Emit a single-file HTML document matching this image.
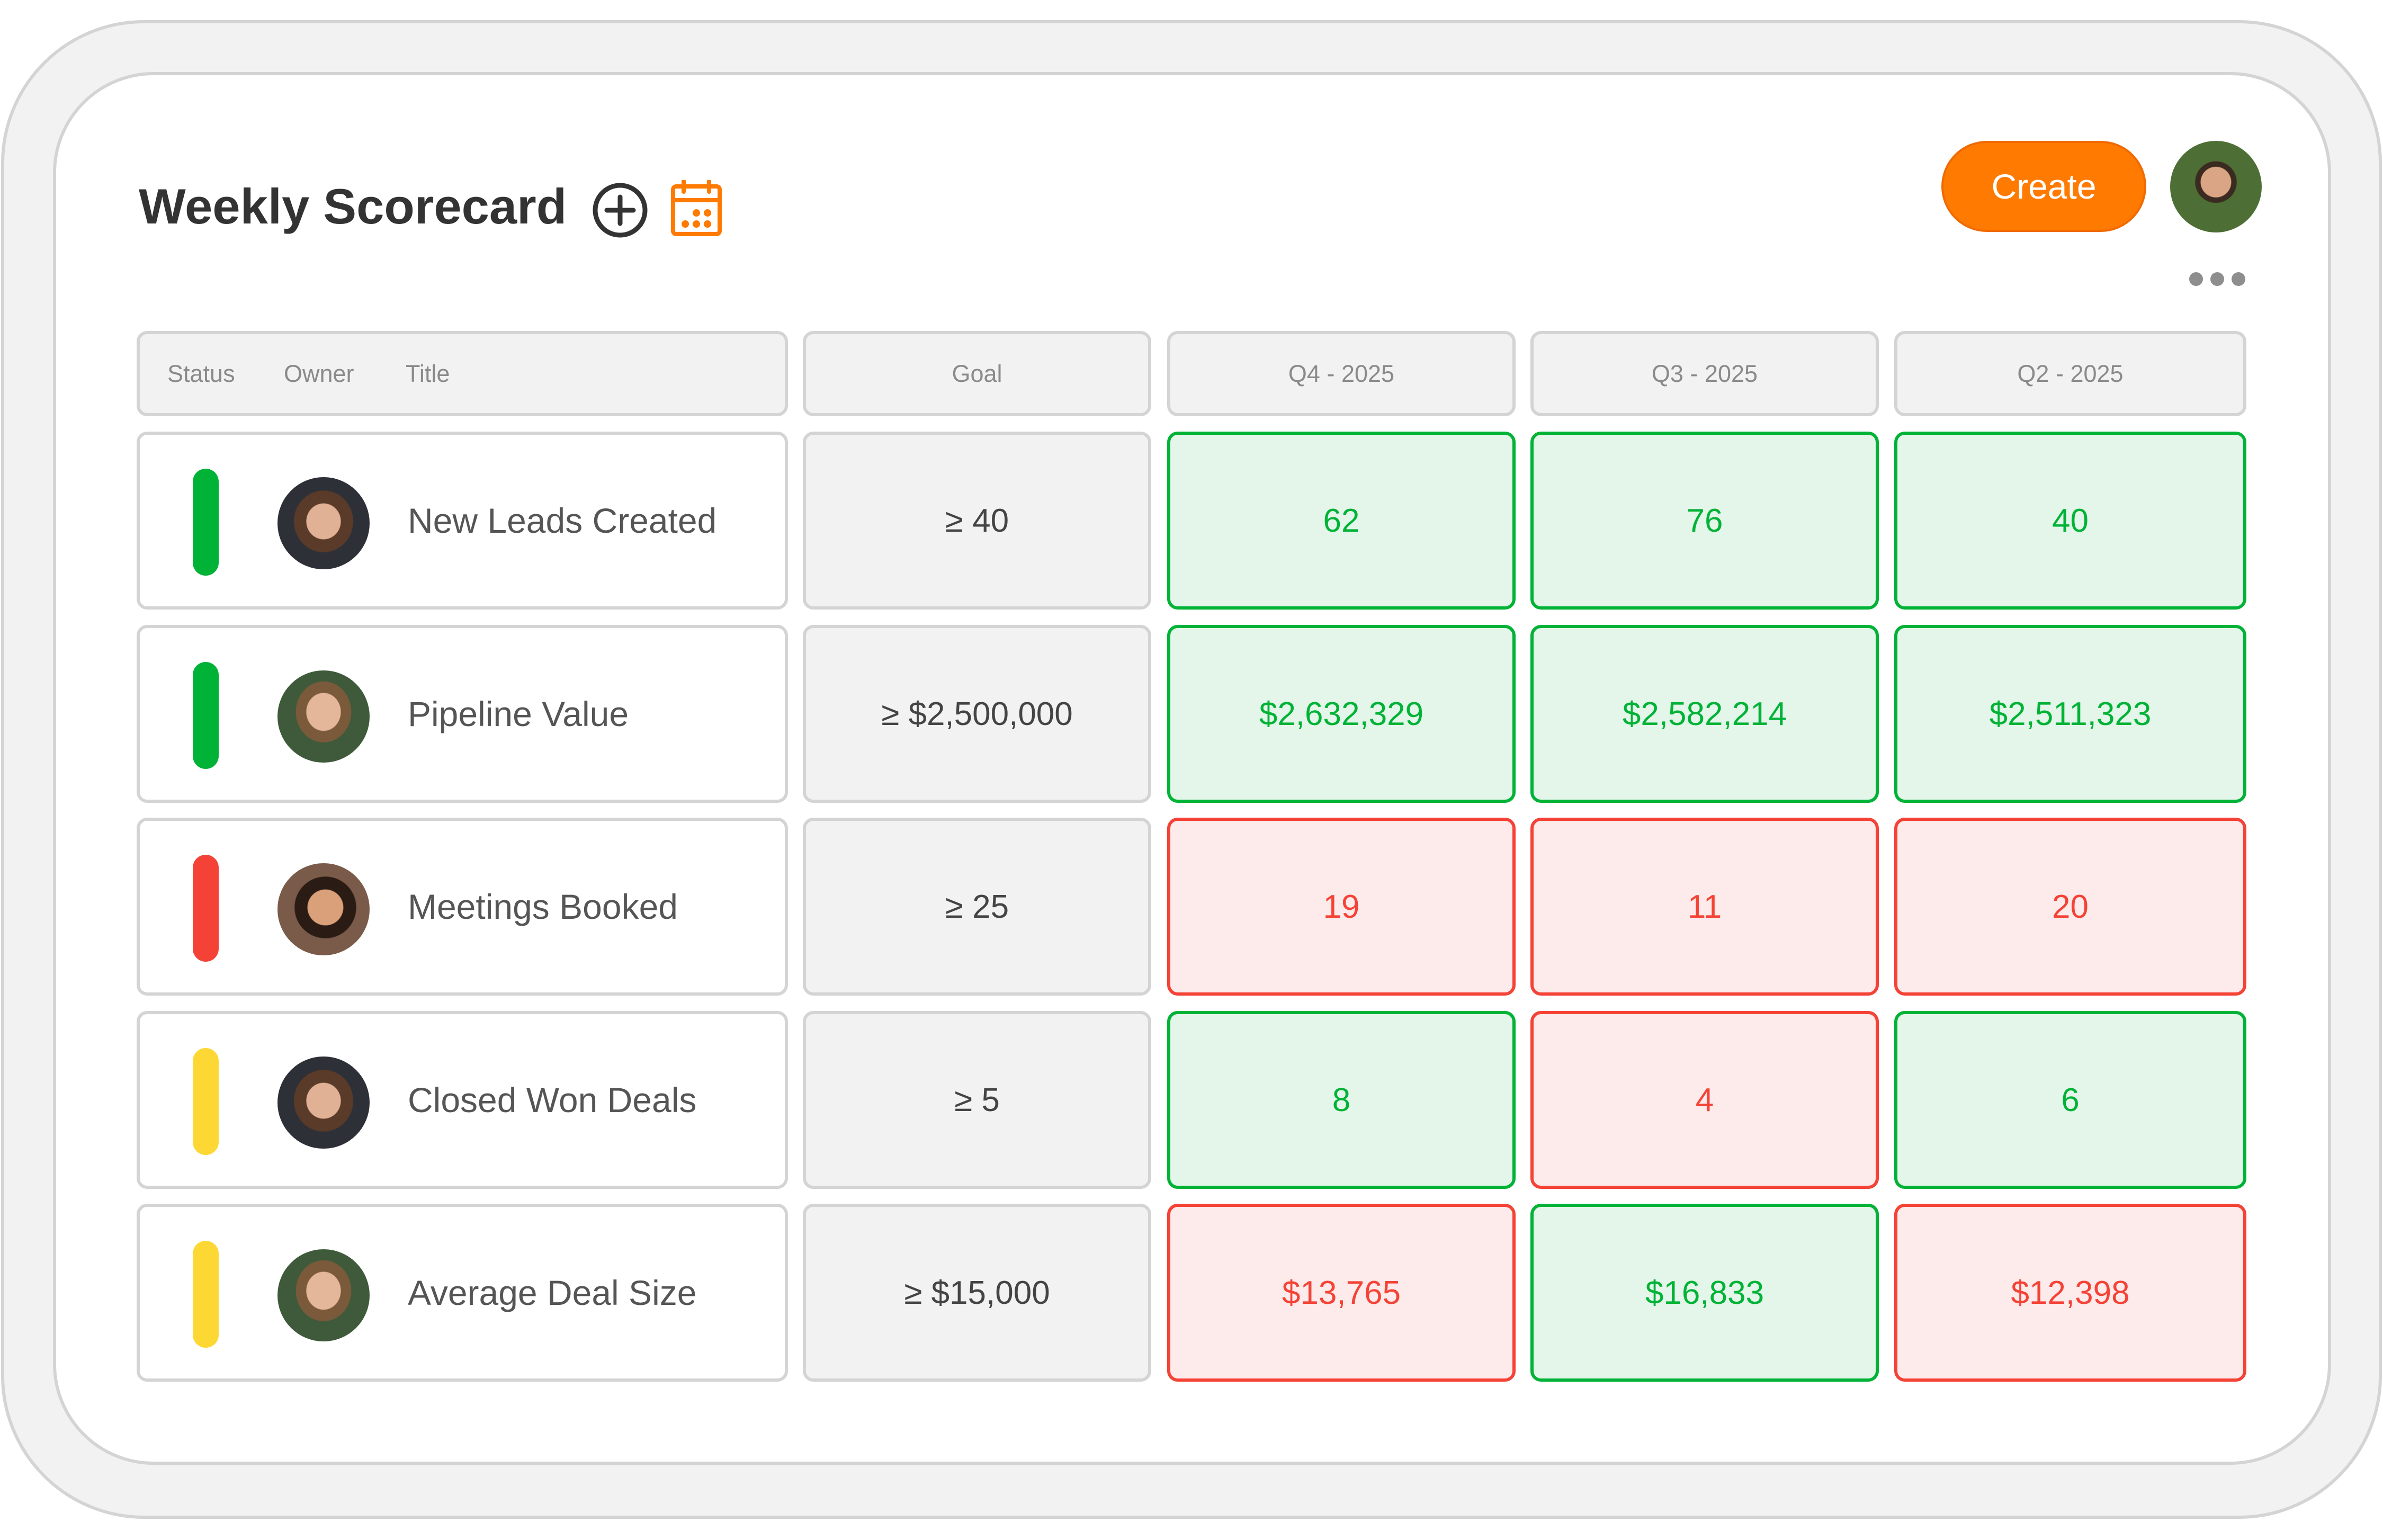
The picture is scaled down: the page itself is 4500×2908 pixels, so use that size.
<!DOCTYPE html>
<html><head><style>
*{margin:0;padding:0;box-sizing:border-box}
body{width:4500px;height:2908px;background:#fff;position:relative;overflow:hidden;font-family:"Liberation Sans",sans-serif}
.abs{position:absolute}
.outer{left:2px;top:38px;width:4496px;height:2830px;background:#f2f2f2;border:6px solid #d4d4d4;border-radius:270px}
.inner{left:100px;top:136px;width:4302px;height:2630px;background:#fff;border:6px solid #d4d4d4;border-radius:190px}
.title{left:262px;top:336px;font-size:94px;font-weight:bold;color:#333;letter-spacing:0px}
.cell{position:absolute;border:6px solid #d4d4d4;border-radius:20px;display:flex;align-items:center;justify-content:center;font-size:62px}
.hdr{background:#f2f2f2;color:#8a8a8a;font-size:45px}
.goal{background:#f2f2f2;color:#444}
.g{background:#e4f5ea;border-color:#00b336;color:#00b336}
.r{background:#fdeaea;border-color:#f44336;color:#f44336}
.main{background:#fff;justify-content:flex-start}
.bar{position:absolute;left:100px;width:49px;top:64px;height:202px;border-radius:25px}
.av{position:absolute;left:260px;top:80px;width:174px;height:174px;border-radius:50%}
.lbl{position:absolute;left:506px;color:#555;font-size:66px;top:124px}
.dot{position:absolute;width:26px;height:26px;border-radius:50%;background:#8e8e8e;top:514px}
</style></head><body>
<div class="abs outer"></div>
<div class="abs inner"></div>
<div class="abs title">Weekly Scorecard</div>
<svg class="abs" style="left:1118px;top:344px" width="106" height="106" viewBox="0 0 106 106"><circle cx="53" cy="53" r="47" fill="none" stroke="#333" stroke-width="9"/><path d="M53 28V78M28 53H78" stroke="#333" stroke-width="9" stroke-linecap="round"/></svg>
<svg class="abs" style="left:1266px;top:340px" width="98" height="106" viewBox="0 0 98 106"><rect x="5" y="12" width="88" height="90" rx="6" fill="none" stroke="#ff7a00" stroke-width="8"/><path d="M5 38H93" stroke="#ff7a00" stroke-width="8"/><path d="M25 2V22M73 2V22" stroke="#ff7a00" stroke-width="8" stroke-linecap="round"/><circle cx="49" cy="62" r="7" fill="#ff7a00"/><circle cx="70" cy="62" r="7" fill="#ff7a00"/><circle cx="28" cy="83" r="7" fill="#ff7a00"/><circle cx="49" cy="83" r="7" fill="#ff7a00"/><circle cx="70" cy="83" r="7" fill="#ff7a00"/></svg>
<div class="abs" style="left:3666px;top:266px;width:387px;height:172px;border-radius:86px;background:#ff7a00;border:4px solid #f06a00;color:#fff;font-size:66px;display:flex;align-items:center;justify-content:center">Create</div>
<div class="abs" style="left:4098px;top:266px;width:173px;height:173px;border-radius:50%;background:radial-gradient(circle at 50% 45%,#d9a584 0 22%,#3a2a20 23% 30%,#4d6e34 31% 100%)"></div>
<div class="dot" style="left:4134px"></div><div class="dot" style="left:4174px"></div><div class="dot" style="left:4214px"></div>

<div class="cell hdr" style="left:258px;top:625px;width:1230px;height:161px;justify-content:flex-start"><span style="position:absolute;left:52px">Status</span><span style="position:absolute;left:272px">Owner</span><span style="position:absolute;left:502px">Title</span></div>
<div class="cell hdr" style="left:1516px;top:625px;width:658px;height:161px">Goal</div>
<div class="cell hdr" style="left:2204px;top:625px;width:658px;height:161px">Q4 - 2025</div>
<div class="cell hdr" style="left:2890px;top:625px;width:658px;height:161px">Q3 - 2025</div>
<div class="cell hdr" style="left:3577px;top:625px;width:665px;height:161px">Q2 - 2025</div>

<div class="cell main" style="left:258px;top:815px;width:1230px;height:336px"><div class="bar" style="background:#00b336"></div><div class="av" style="background:radial-gradient(ellipse at 50% 48%,#e0b195 0 26%,#5a3a28 27% 45%,#2e3038 46%)"></div><div class="lbl">New Leads Created</div></div>
<div class="cell goal" style="left:1516px;top:815px;width:658px;height:336px">≥ 40</div>
<div class="cell g" style="left:2204px;top:815px;width:658px;height:336px">62</div>
<div class="cell g" style="left:2890px;top:815px;width:658px;height:336px">76</div>
<div class="cell g" style="left:3577px;top:815px;width:665px;height:336px">40</div>

<div class="cell main" style="left:258px;top:1180px;width:1230px;height:336px"><div class="bar" style="background:#00b336"></div><div class="av" style="background:radial-gradient(ellipse at 50% 45%,#e4b69a 0 26%,#7a5a3a 27% 42%,#3e5a3a 43%)"></div><div class="lbl">Pipeline Value</div></div>
<div class="cell goal" style="left:1516px;top:1180px;width:658px;height:336px">≥ $2,500,000</div>
<div class="cell g" style="left:2204px;top:1180px;width:658px;height:336px">$2,632,329</div>
<div class="cell g" style="left:2890px;top:1180px;width:658px;height:336px">$2,582,214</div>
<div class="cell g" style="left:3577px;top:1180px;width:665px;height:336px">$2,511,323</div>

<div class="cell main" style="left:258px;top:1544px;width:1230px;height:336px"><div class="bar" style="background:#f44336"></div><div class="av" style="background:radial-gradient(ellipse at 52% 48%,#d9a07a 0 26%,#2a1c14 27% 45%,#7a5a48 46%)"></div><div class="lbl">Meetings Booked</div></div>
<div class="cell goal" style="left:1516px;top:1544px;width:658px;height:336px">≥ 25</div>
<div class="cell r" style="left:2204px;top:1544px;width:658px;height:336px">19</div>
<div class="cell r" style="left:2890px;top:1544px;width:658px;height:336px">11</div>
<div class="cell r" style="left:3577px;top:1544px;width:665px;height:336px">20</div>

<div class="cell main" style="left:258px;top:1909px;width:1230px;height:336px"><div class="bar" style="background:#fdd835"></div><div class="av" style="background:radial-gradient(ellipse at 50% 48%,#e0b195 0 26%,#5a3a28 27% 45%,#2e3038 46%)"></div><div class="lbl">Closed Won Deals</div></div>
<div class="cell goal" style="left:1516px;top:1909px;width:658px;height:336px">≥ 5</div>
<div class="cell g" style="left:2204px;top:1909px;width:658px;height:336px">8</div>
<div class="cell r" style="left:2890px;top:1909px;width:658px;height:336px">4</div>
<div class="cell g" style="left:3577px;top:1909px;width:665px;height:336px">6</div>

<div class="cell main" style="left:258px;top:2273px;width:1230px;height:336px"><div class="bar" style="background:#fdd835"></div><div class="av" style="background:radial-gradient(ellipse at 50% 45%,#e4b69a 0 26%,#7a5a3a 27% 42%,#3e5a3a 43%)"></div><div class="lbl">Average Deal Size</div></div>
<div class="cell goal" style="left:1516px;top:2273px;width:658px;height:336px">≥ $15,000</div>
<div class="cell r" style="left:2204px;top:2273px;width:658px;height:336px">$13,765</div>
<div class="cell g" style="left:2890px;top:2273px;width:658px;height:336px">$16,833</div>
<div class="cell r" style="left:3577px;top:2273px;width:665px;height:336px">$12,398</div>
</body></html>
